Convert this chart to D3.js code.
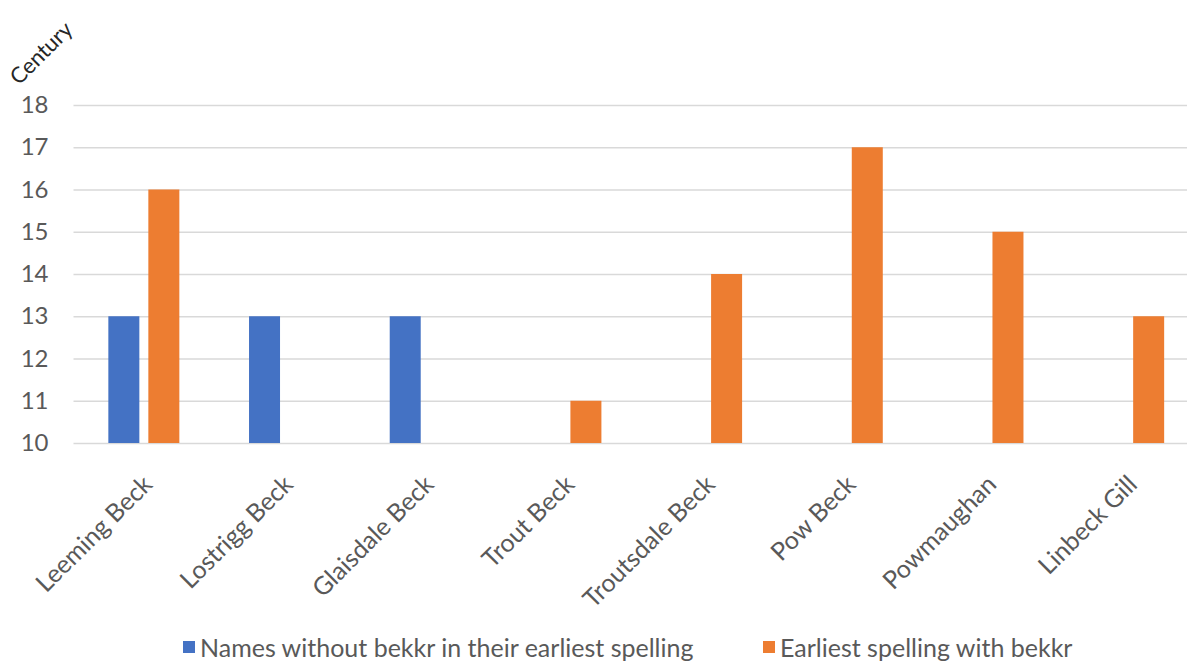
<!DOCTYPE html>
<html>
<head>
<meta charset="utf-8">
<script src="https://cdn.jsdelivr.net/npm/d3@7"></script>
<style>
  html, body { margin: 0; padding: 0; background: #fff; }
  svg { display: block; font-family: Lato, "Open Sans", sans-serif; }
</style>
</head>
<body>
<svg id="chart" width="1187" height="661"></svg>
<script>
// Rivers and the century of their earliest recorded spelling
const categories = ["Leeming Beck", "Lostrigg Beck", "Glaisdale Beck", "Trout Beck",
                    "Troutsdale Beck", "Pow Beck", "Powmaughan", "Linbeck Gill"];
const seriesNames = ["Names without bekkr in their earliest spelling", "Earliest spelling with bekkr"];
const withoutBekkr = [13, 13, 13, null, null, null, null, null];
const withBekkr    = [16, null, null, 11, 14, 17, 15, 13];
const yTicks = [10, 11, 12, 13, 14, 15, 16, 17, 18];
const colors = ["#4472C4", "#ED7D31"];

const svg = d3.select("#chart");
const textColor = "#595959";
const fontSize = 24;

const x0 = d3.scaleBand().domain(categories).range([73.5, 1199]).padding(0);
const groupW = 71;
const x1 = d3.scaleBand().domain([0, 1])
  .range([(x0.bandwidth() - groupW) / 2, (x0.bandwidth() + groupW) / 2])
  .paddingInner(0.225).paddingOuter(0);
const y = d3.scaleLinear().domain([10, 18]).range([443, 105]);

// horizontal gridlines
const yAxis = d3.axisLeft(y).tickValues(yTicks).tickSize(-(1199 - 73.5)).tickPadding(25);
const gy = svg.append("g").attr("transform", "translate(73.5,0)").call(yAxis);
gy.select(".domain").remove();
gy.selectAll(".tick line").attr("stroke", "#d9d9d9").attr("stroke-width", 1.5);
gy.selectAll(".tick text").attr("fill", textColor).attr("font-size", fontSize)
  .attr("font-family", "Lato, 'Open Sans', sans-serif");

// bars
const seriesData = [withoutBekkr, withBekkr];
seriesData.forEach((vals, si) => {
  svg.append("g").selectAll("rect")
    .data(categories.map((c, i) => ({ c, v: vals[i] })).filter(d => d.v != null))
    .join("rect")
    .attr("x", d => x0(d.c) + x1(si))
    .attr("width", x1.bandwidth())
    .attr("y", d => y(d.v))
    .attr("height", d => y(10) - y(d.v))
    .attr("fill", colors[si]);
});

// category labels (rotated)
const xAxis = d3.axisBottom(x0).tickSize(0).tickPadding(0);
const gx = svg.append("g").attr("transform", "translate(0,443)").call(xAxis);
gx.select(".domain").remove();
gx.selectAll(".tick text")
  .attr("fill", textColor).attr("font-size", 25)
  .attr("font-family", "Lato, 'Open Sans', sans-serif")
  .attr("text-anchor", "end")
  .attr("dy", 0)
  .attr("transform", "translate(10,43) rotate(-45)");

// axis title
svg.append("text")
  .attr("transform", "translate(19,86) rotate(-45)")
  .attr("fill", "#262626").attr("font-size", 22)
  .text("Century");

// legend
const legendX = [183, 763];
seriesNames.forEach((name, i) => {
  const g = svg.append("g").attr("transform", `translate(${legendX[i]},641)`);
  g.append("rect").attr("width", 12).attr("height", 12).attr("fill", colors[i]);
  g.append("text").attr("x", 17).attr("y", 16).attr("fill", textColor)
    .attr("font-size", 25).text(name);
});
</script>
</body>
</html>
